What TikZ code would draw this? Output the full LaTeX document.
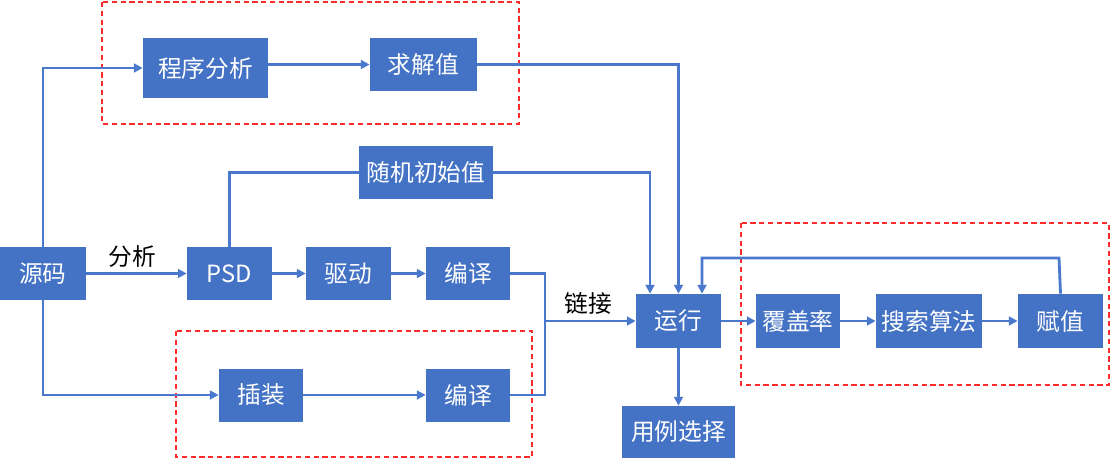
\documentclass[tikz,border=0pt]{standalone}
\usepackage{xcolor}
\usepackage{fontspec}
\newfontfamily\cjk{Noto Sans CJK SC}
\usetikzlibrary{arrows.meta}
\definecolor{boxblue}{HTML}{4472C4}
\definecolor{lineblue}{HTML}{4A78CC}
\definecolor{dashred}{HTML}{FF2A2A}

\begin{document}
\begin{tikzpicture}[x=0.02cm,y=-0.02cm,
    blk/.style={fill=boxblue,text=white,font={\cjk\fontsize{13.5pt}{16pt}\selectfont},
        minimum height=1.06cm,inner sep=0pt},
    flow/.style={draw=lineblue,line width=1.6pt},
    arr/.style={flow,-{Triangle[length=5pt,width=5pt]}},
    grp/.style={draw=dashred,line width=0.6pt,dash pattern=on 3pt off 2pt},
    lbl/.style={font={\cjk\fontsize{13.5pt}{16pt}\selectfont}}]
    \useasboundingbox (0,0) rectangle (1111,461);

    % Draw the dashed groups
    \draw[grp] (102,2) rectangle (519,124);
    \draw[grp] (176,331) rectangle (532,457);
    \draw[grp] (741,223) rectangle (1109,385);

    % Add the boxes
    \node[blk,minimum width=1.72cm] (src) at (43,273.5) {源码};
    \node[blk,minimum width=2.5cm,minimum height=1.2cm] (ana) at (205.5,68) {程序分析};
    \node[blk,minimum width=2.14cm] (solve) at (423.5,64.5) {求解值};
    \node[blk,minimum width=2.68cm] (rand) at (426,172.5) {随机初始值};
    \node[blk,minimum width=1.7cm] (psd) at (229.5,273.5) {PSD};
    \node[blk,minimum width=1.7cm] (drive) at (348.5,273.5) {驱动};
    \node[blk,minimum width=1.68cm] (comp1) at (468,273.5) {编译};
    \node[blk,minimum width=1.68cm] (inst) at (261,395) {插装};
    \node[blk,minimum width=1.68cm] (comp2) at (468,395) {编译};
    \node[blk,minimum width=1.7cm,minimum height=1.08cm] (run) at (678.5,321) {运行};
    \node[blk,minimum width=2.26cm,minimum height=1.04cm] (sel) at (678.5,432) {用例选择};
    \node[blk,minimum width=1.68cm,minimum height=1.08cm] (cov) at (798,321) {覆盖率};
    \node[blk,minimum width=2.12cm,minimum height=1.08cm] (search) at (929,321) {搜索算法};
    \node[blk,minimum width=1.7cm,minimum height=1.08cm] (assign) at (1060.5,321) {赋值};

    % Add the labels
    \node[lbl] (fx) at (132,257) {分析};
    \node[lbl] (lj) at (588,303) {链接};

    % Draw the connectors
    \draw[arr] (src.north) |- (ana.west);
    \draw[arr] (ana.east |- solve.west) -- (solve.west);
    \draw[arr] (src.east) -- (psd.west);
    \draw[arr] (src.south) |- (inst.west);
    \draw[arr] (psd) -- (drive);
    \draw[arr] (drive) -- (comp1);
    \draw[arr] (inst) -- (comp2);
    \draw[flow] (psd.north) |- (rand.west);
    \draw[arr] (rand.east) -| ([xshift=-0.57cm]run.north);
    \draw[arr] (solve.east) -| (run.north);

    \coordinate (j) at (545,321);
    \draw[flow] (comp1.east) -| (j);
    \draw[flow] (comp2.east) -| (j);
    \draw[arr] (j) -- (run.west);

    \draw[arr] (run) -- (cov);
    \draw[arr] (cov) -- (search);
    \draw[arr] (search) -- (assign);
    \draw[arr] (run.south) -- (sel.north);

    \coordinate (fb) at (1059,258);
    \draw[arr] (assign.north) -- (fb) -| ([xshift=0.47cm]run.north);
\end{tikzpicture}
\end{document}
